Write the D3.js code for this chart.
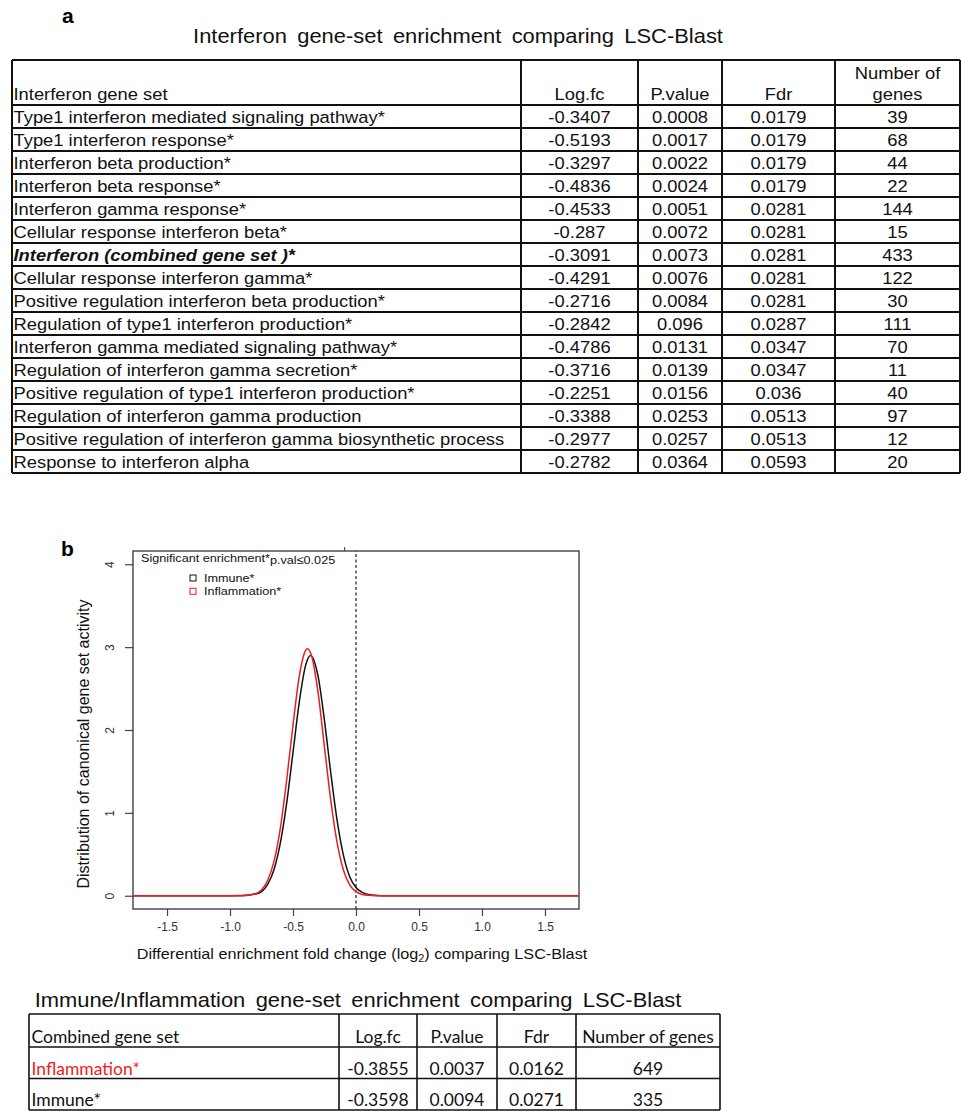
<!DOCTYPE html>
<html>
<head>
<meta charset="utf-8">
<script src="https://cdn.jsdelivr.net/npm/d3@7"></script>
<style>
body { margin: 0; background: #fff; }
svg { display: block; font-family: "Liberation Sans", Arial, sans-serif; }
</style>
</head>
<body>
<div id="chart-area"></div>
<script>
// ---- DATA: panel a table ----
var titleA = "Interferon gene-set enrichment comparing LSC-Blast";
var headersA = ["Interferon gene set", "Log.fc", "P.value", "Fdr"];
var geneSets = [
    "Type1 interferon mediated signaling pathway*",
    "Type1 interferon response*",
    "Interferon beta production*",
    "Interferon beta response*",
    "Interferon gamma response*",
    "Cellular response interferon beta*",
    "Interferon (combined gene set )*",
    "Cellular response interferon gamma*",
    "Positive regulation interferon beta production*",
    "Regulation of type1 interferon production*",
    "Interferon gamma mediated signaling pathway*",
    "Regulation of interferon gamma secretion*",
    "Positive regulation of type1 interferon production*",
    "Regulation of interferon gamma production",
    "Positive regulation of interferon gamma biosynthetic process",
    "Response to interferon alpha"
];
var logFc = [-0.3407, -0.5193, -0.3297, -0.4836, -0.4533, -0.287, -0.3091, -0.4291,
             -0.2716, -0.2842, -0.4786, -0.3716, -0.2251, -0.3388, -0.2977, -0.2782];
var pValue = [0.0008, 0.0017, 0.0022, 0.0024, 0.0051, 0.0072, 0.0073, 0.0076,
              0.0084, 0.096, 0.0131, 0.0139, 0.0156, 0.0253, 0.0257, 0.0364];
var fdr = [0.0179, 0.0179, 0.0179, 0.0179, 0.0281, 0.0281, 0.0281, 0.0281,
           0.0281, 0.0287, 0.0347, 0.0347, 0.036, 0.0513, 0.0513, 0.0593];
var nGenes = [39, 68, 44, 22, 144, 15, 433, 122, 30, 111, 70, 11, 40, 97, 12, 20];
var boldRow = 6;

// ---- DATA: panel b density curves ----
var immuneX = [-1.77, -1.0, -0.9, -0.8, -0.75, -0.7, -0.65, -0.6, -0.55, -0.5, -0.45, -0.4, -0.36,
               -0.3, -0.25, -0.2, -0.15, -0.1, -0.05, 0.0, 0.05, 0.1, 0.15, 0.2, 0.3, 1.77];
var immuneY = [0, 0, 0.002, 0.02, 0.05, 0.14, 0.32, 0.64, 1.12, 1.73, 2.34, 2.78, 2.9,
               2.64, 2.11, 1.48, 0.91, 0.49, 0.23, 0.1, 0.04, 0.015, 0.005, 0.001, 0, 0];
var inflamX = [-1.77, -1.0, -0.9, -0.8, -0.75, -0.7, -0.65, -0.6, -0.55, -0.5, -0.45, -0.4, -0.385,
               -0.35, -0.3, -0.25, -0.2, -0.15, -0.1, -0.05, 0.0, 0.05, 0.1, 0.15, 0.25, 1.77];
var inflamY = [0, 0, 0.001, 0.025, 0.07, 0.19, 0.42, 0.82, 1.40, 2.06, 2.65, 2.96, 2.98,
               2.88, 2.44, 1.79, 1.15, 0.64, 0.31, 0.13, 0.05, 0.015, 0.005, 0.001, 0, 0];
var xTicks = [-1.5, -1.0, -0.5, 0.0, 0.5, 1.0, 1.5];
var yTicks = [0, 1, 2, 3, 4];

// ---- DATA: bottom table ----
var titleC = "Immune/Inflammation gene-set enrichment comparing LSC-Blast";
var headersC = ["Combined gene set", "Log.fc", "P.value", "Fdr", "Number of genes"];
var combinedSets = ["Inflammation*", "Immune*"];
var combLogFc = [-0.3855, -0.3598];
var combP = [0.0037, 0.0094];
var combFdr = [0.0162, 0.0271];
var combN = [649, 335];

// GRAPHIC'S SIZE
var W = 961, H = 1111;
var SX = 1.08;   // the source figure is a little stretched sideways
var RED = "#ee1c1c";

var svg = d3.select("#chart-area")
    .append("svg")
    .attr("width", W)
    .attr("height", H);

svg.append("rect").attr("width", W).attr("height", H).attr("fill", "#fff");

// text stretched horizontally like the source
function stext(parent, x, y, str, size, anchor) {
    return parent.append("text")
        .attr("transform", "translate(" + x + "," + y + ") scale(" + SX + ",1)")
        .attr("font-size", size + "px")
        .attr("text-anchor", anchor || "start")
        .attr("fill", "#111")
        .text(str);
}

// ================= PANEL A =================
var gA = svg.append("g");

gA.append("text")
    .attr("x", 62).attr("y", 23)
    .attr("font-size", "21px").attr("font-weight", "bold")
    .text("a");

stext(gA, 458, 43, titleA, 20.3, "middle").attr("word-spacing", "4px");

var colA = [12, 521, 638, 722, 835, 960];
var topA = 60, headA = 105, bottomA = 473;
var rowA = d3.scaleBand().domain(d3.range(geneSets.length)).range([headA, bottomA]);

var linesA = gA.append("g").attr("stroke", "#111").attr("stroke-width", 2);
var hLinesA = [topA, headA].concat(geneSets.map((d, i) => rowA(i) + rowA.bandwidth()));
linesA.selectAll(".h").data(hLinesA).enter().append("line")
    .attr("x1", colA[0]).attr("x2", colA[5])
    .attr("y1", d => d).attr("y2", d => d);
linesA.selectAll(".v").data(colA).enter().append("line")
    .attr("x1", d => d).attr("x2", d => d)
    .attr("y1", topA).attr("y2", bottomA);

function midA(c) { return (colA[c] + colA[c + 1]) / 2; }

var fsA = 17;
// header
stext(gA, colA[0] + 1.5, headA - 5, headersA[0], fsA);
headersA.slice(1).forEach((h, i) => stext(gA, midA(i + 1), headA - 5, h, fsA, "middle"));
stext(gA, midA(4), headA - 26, "Number of", fsA, "middle");
stext(gA, midA(4), headA - 5, "genes", fsA, "middle");

// rows
geneSets.forEach((name, i) => {
    var yb = rowA(i) + rowA.bandwidth() - 5;
    var t = stext(gA, colA[0] + 1.5, yb, name, fsA);
    if (i === boldRow) t.attr("font-weight", "bold").attr("font-style", "italic");
    stext(gA, midA(1), yb, String(logFc[i]), fsA, "middle");
    stext(gA, midA(2), yb, String(pValue[i]), fsA, "middle");
    stext(gA, midA(3), yb, String(fdr[i]), fsA, "middle");
    stext(gA, midA(4), yb, String(nGenes[i]), fsA, "middle");
});

// ================= PANEL B =================
var gB = svg.append("g");

gB.append("text")
    .attr("x", 61).attr("y", 556)
    .attr("font-size", "21px").attr("font-weight", "bold")
    .text("b");

var plot = { left: 133, right: 579, top: 551, bottom: 909 };
var x = d3.scaleLinear().domain([-1.77, 1.77]).range([plot.left, plot.right]);
var y = d3.scaleLinear().domain([-0.16, 4.16]).range([plot.bottom, plot.top]);

// axes
var xAxisGroup = gB.append("g")
    .attr("transform", "translate(0," + plot.bottom + ")")
    .call(d3.axisBottom(x).tickValues(xTicks).tickSize(7).tickPadding(6)
        .tickFormat(d => d.toFixed(1)));
xAxisGroup.select(".domain").remove();
xAxisGroup.selectAll("line").attr("stroke", "#444").attr("stroke-width", 1.2);
xAxisGroup.selectAll("text")
    .attr("font-family", "Liberation Sans, Arial, sans-serif")
    .attr("font-size", "12px").attr("fill", "#333");

var yAxisGroup = gB.append("g")
    .attr("transform", "translate(" + plot.left + ",0)")
    .call(d3.axisLeft(y).tickValues(yTicks).tickSize(8).tickFormat(d => String(d)));
yAxisGroup.select(".domain").remove();
yAxisGroup.selectAll("line").attr("stroke", "#444").attr("stroke-width", 1.2);
yAxisGroup.selectAll("text")
    .attr("font-family", "Liberation Sans, Arial, sans-serif")
    .attr("font-size", "12px").attr("fill", "#333")
    .attr("transform", "rotate(-90)")
    .attr("x", 0).attr("y", -19).attr("dy", 0)
    .attr("text-anchor", "middle");

// box
gB.append("rect")
    .attr("x", plot.left).attr("y", plot.top)
    .attr("width", plot.right - plot.left).attr("height", plot.bottom - plot.top)
    .attr("fill", "none").attr("stroke", "#333").attr("stroke-width", 1.3);

// small mark above the box (left by the legend frame)
gB.append("line")
    .attr("x1", x(-0.09)).attr("x2", x(-0.09))
    .attr("y1", plot.top - 4).attr("y2", plot.top)
    .attr("stroke", "#333").attr("stroke-width", 1);

// dashed zero line
gB.append("line")
    .attr("x1", x(0)).attr("x2", x(0))
    .attr("y1", plot.bottom).attr("y2", plot.top)
    .attr("stroke", "#222").attr("stroke-width", 1.2)
    .attr("stroke-dasharray", "3,2.5");

// curves
var line = d3.line()
    .x(d => x(d[0]))
    .y(d => y(d[1]))
    .curve(d3.curveMonotoneX);

gB.append("path")
    .datum(d3.zip(immuneX, immuneY))
    .attr("d", line)
    .attr("fill", "none").attr("stroke", "#111").attr("stroke-width", 1.5);

gB.append("path")
    .datum(d3.zip(inflamX, inflamY))
    .attr("d", line)
    .attr("fill", "none").attr("stroke", RED).attr("stroke-width", 1.5);

// legend
var leg = stext(gB, 141, 562, "Significant enrichment*", 11.7);
leg.append("tspan").attr("dy", 2).text("p.val\u22640.025");

var legItems = [{ name: "Immune*", color: "#111" }, { name: "Inflammation*", color: RED }];
legItems.forEach((d, i) => {
    var cy = 578 + i * 13.3;
    gB.append("rect")
        .attr("x", 190).attr("y", cy - 3)
        .attr("width", 6).attr("height", 6)
        .attr("fill", "none").attr("stroke", d.color).attr("stroke-width", 1);
    stext(gB, 204, cy + 4, d.name, 11.7);
});

// axis labels
var xl = stext(gB, 362, 959, "", 15, "middle");
xl.append("tspan").text("Differential enrichment fold change (log");
xl.append("tspan").attr("font-size", "10px").attr("dy", 3).text("2");
xl.append("tspan").attr("dy", -3).text(") comparing LSC-Blast");

gB.append("text")
    .attr("transform", "translate(89,744) rotate(-90)")
    .attr("font-size", "16px")
    .attr("text-anchor", "middle")
    .attr("fill", "#111")
    .text("Distribution of canonical gene set activity");

// ================= BOTTOM TABLE =================
var gC = svg.append("g");

stext(gC, 358, 1007, titleC, 20.3, "middle").attr("word-spacing", "4px");

var colC = [29, 339, 417, 497, 576, 720];
var topC = 1014, headC = 1047, bottomC = 1110;
var rowC = d3.scaleBand().domain(d3.range(combinedSets.length)).range([headC, bottomC]);

var linesC = gC.append("g").attr("stroke", "#111").attr("stroke-width", 1.6);
var hLinesC = [topC, headC].concat(combinedSets.map((d, i) => rowC(i) + rowC.bandwidth()));
linesC.selectAll(".h").data(hLinesC).enter().append("line")
    .attr("x1", colC[0]).attr("x2", colC[5])
    .attr("y1", d => d).attr("y2", d => d);
linesC.selectAll(".v").data(colC).enter().append("line")
    .attr("x1", d => d).attr("x2", d => d)
    .attr("y1", topC).attr("y2", bottomC);

function midC(c) { return (colC[c] + colC[c + 1]) / 2; }

var fontC = "Lato, 'Open Sans', sans-serif";
function ctext(x, yb, str, anchor) {
    return gC.append("text")
        .attr("x", x).attr("y", yb)
        .attr("font-family", fontC)
        .attr("font-size", "17.5px")
        .attr("text-anchor", anchor || "middle")
        .attr("fill", "#111")
        .text(str);
}

ctext(colC[0] + 2.5, headC - 4, headersC[0], "start");
headersC.slice(1).forEach((h, i) => ctext(midC(i + 1), headC - 4, h));

combinedSets.forEach((name, i) => {
    var yb = rowC(i) + rowC.bandwidth() - 4;
    var t = ctext(colC[0] + 2.5, yb, name, "start");
    if (i === 0) t.attr("fill", RED);
    ctext(midC(1), yb, String(combLogFc[i]));
    ctext(midC(2), yb, String(combP[i]));
    ctext(midC(3), yb, String(combFdr[i]));
    ctext(midC(4), yb, String(combN[i]));
});
</script>
</body>
</html>
